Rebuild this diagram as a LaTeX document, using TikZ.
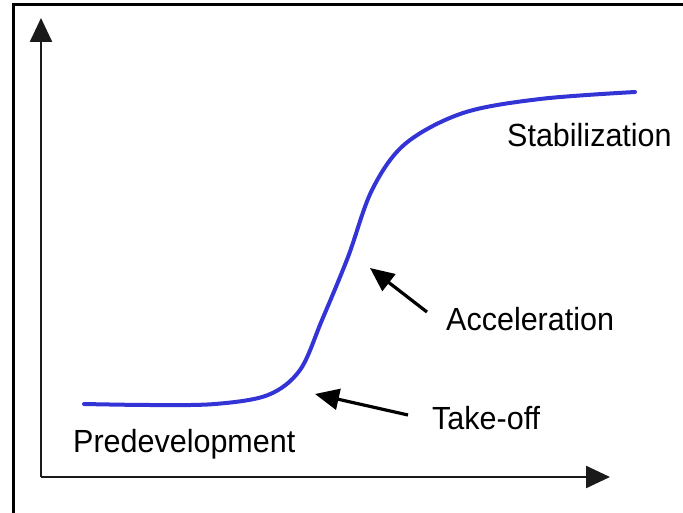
\documentclass[tikz,border=0pt]{standalone}
\usepackage{fontspec}
\setmainfont{Liberation Sans}
\usetikzlibrary{arrows.meta}
\definecolor{sigmoid}{HTML}{3434D6}
\definecolor{axis}{HTML}{1A1A1A}

\begin{document}
\begin{tikzpicture}[x=1pt,y=-1pt,
    phase/.style={font=\fontsize{30.5}{36}\selectfont,inner sep=0pt,anchor=base west,yscale=1.05},
    pointer/.style={black,line width=3.2pt,-{Triangle[length=24pt,width=21pt]}},
    axisline/.style={axis,line width=2.5pt,-{Triangle[length=24pt,width=22pt]}}]
  \useasboundingbox (0,0) rectangle (683,513);

  % Frame (top and left edges only)
  \draw[line width=3pt,line cap=rect] (13,513) -- (13,5) -- (683,5);

  % Axes
  \coordinate (origin) at (41,477);
  \coordinate (ytop) at (41,18);
  \coordinate (xend) at (610,477);
  \draw[axisline] (origin) -- (ytop);
  \draw[axisline] (origin) -- (xend);

  % S-shaped growth curve
  \draw[sigmoid,line width=4pt,line cap=round] plot[smooth,tension=0.55] coordinates {
    (84,404) (150,405) (215,404) (268,395) (300,370)
    (322,320) (348,257) (372,190) (405,144) (463,113)
    (540,99) (635,92)};

  % Phase labels
  \node[phase] (stab) at (507,147) {Stabilization};
  \node[phase] (acc) at (446,330) {Acceleration};
  \node[phase] (take) at (432,429) {Take-off};
  \node[phase] (pre) at (73,452) {Predevelopment};

  % Pointers onto the curve
  \coordinate (accTail) at (427,312);
  \coordinate (accTip) at (370,268);
  \coordinate (takeTail) at (408,415);
  \coordinate (takeTip) at (315,394);
  \draw[pointer] (accTail) -- (accTip);
  \draw[pointer] (takeTail) -- (takeTip);
\end{tikzpicture}
\end{document}
